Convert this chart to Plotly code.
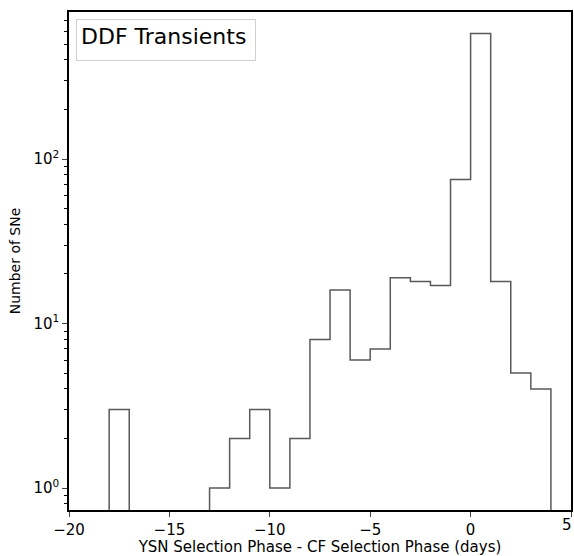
import plotly.graph_objects as go
import math

bin_edges = list(range(-20, 6))
counts = [0, 0, 3, 0, 0, 0, 0, 1, 2, 3, 1, 2, 8, 16, 6, 7, 19, 18, 17, 75, 580, 18, 5, 4, 0]
y_tick_vals = [1, 10, 100]
y_tick_text = ["10<sup>0</sup>", "10<sup>1</sup>", "10<sup>2</sup>"]
x_tick_vals = [-20, -15, -10, -5, 0, 5]
x_tick_text = ["\u221220", "\u221215", "\u221210", "\u22125", "0", "5"]

# step outline
xs, ys = [], []
floor = 1e-3
for i, c in enumerate(counts):
    v = c if c > 0 else floor
    xs += [bin_edges[i], bin_edges[i + 1]]
    ys += [v, v]

minor_vals = []
for d in [0.1, 1, 10, 100]:
    for k in range(2, 10):
        minor_vals.append(d * k)

fig = go.Figure()
fig.add_trace(go.Scatter(x=xs, y=ys, mode="lines",
                         line=dict(color="rgba(60,60,60,0.85)", width=1.5),
                         showlegend=False, hoverinfo="skip"))

tick_font = dict(family="DejaVu Sans", size=15, color="black")
fig.update_layout(
    width=574, height=556,
    margin=dict(l=69, r=3, t=12, b=46),
    plot_bgcolor="white", paper_bgcolor="white",
    font=dict(family="DejaVu Sans", size=13, color="black"),
    xaxis=dict(range=[-20, 5], tickvals=x_tick_vals,
               ticktext=x_tick_text[:-1] + [""],
               ticks="outside", ticklen=5, tickwidth=1.2, showgrid=False,
               showline=True, linecolor="black", linewidth=1.5, mirror=True,
               zeroline=False, automargin=False, tickfont=tick_font,
               title=dict(text="YSN Selection Phase - CF Selection Phase (days)",
                          font=dict(family="DejaVu Sans", size=15), standoff=2)),
    yaxis=dict(type="log", range=[math.log10(0.735), math.log10(783)],
               tickvals=y_tick_vals, ticktext=y_tick_text,
               ticks="outside", ticklen=5, tickwidth=1.2, showgrid=False,
               showline=True, linecolor="black", linewidth=1.5, mirror=True,
               zeroline=False, automargin=False, tickfont=tick_font,
               minor=dict(tickvals=minor_vals, ticks="outside", ticklen=3,
                          tickwidth=1, tickcolor="black", showgrid=False),
               title=dict(text="Number of SNe",
                          font=dict(family="DejaVu Sans", size=14), standoff=10)),
)
# last x tick label (would be hidden by plotly at the paper edge)
fig.add_annotation(xref="x", yref="paper", x=x_tick_vals[-1], y=0,
                   xanchor="right", yanchor="top", yshift=-4, xshift=3,
                   text=x_tick_text[-1], showarrow=False, font=tick_font)
fig.add_annotation(xref="paper", yref="paper", x=0.014, y=0.986,
                   xanchor="left", yanchor="top", width=170, height=32,
                   valign="top", align="left",
                   text="DDF Transients", showarrow=False,
                   font=dict(family="DejaVu Sans", size=22, color="black"),
                   bordercolor="#d0d0d0", borderwidth=1, borderpad=4,
                   bgcolor="white")
fig.write_html("out.html")
